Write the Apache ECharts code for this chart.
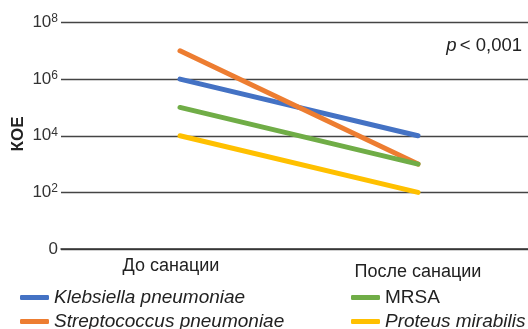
<!DOCTYPE html>
<html>
<head>
<meta charset="utf-8">
<script src="https://cdn.jsdelivr.net/npm/echarts@6/dist/echarts.min.js"></script>
<style>
  html, body { margin: 0; padding: 0; background: #fff; overflow: hidden; }
  /* plot area runs past the right edge of the page, as in the printed figure */
  #chart { width: 537px; height: 329px; }
</style>
</head>
<body>
<div id="chart"></div>
<script>
// Bacterial load (КОЕ) before and after sanitation
const categories = ['До санации', 'После санации'];
const klebsiella = [1e6, 1e4];
const streptococcus = [1e7, 1e3];
const mrsa = [1e5, 1e3];
const proteus = [1e4, 1e2];
const seriesNames = ['Klebsiella pneumoniae', 'Streptococcus pneumoniae', 'MRSA', 'Proteus mirabilis'];
const seriesColors = ['#4472C4', '#ED7D31', '#70AD47', '#FFC000'];

const FONT = '"Liberation Sans", Arial, sans-serif';

const chart = echarts.init(document.getElementById('chart'), null, { renderer: 'canvas' });

function lineSeries(name, data, color) {
  return {
    name: name,
    type: 'line',
    data: data,
    symbol: 'none',
    color: color,
    lineStyle: { width: 5, color: color, cap: 'round' },
    z: 3,
    animation: false
  };
}

const legendRich = {
  i: { fontStyle: 'italic', fontSize: 19, color: '#222', fontFamily: FONT },
  u: { fontStyle: 'normal', fontSize: 19, color: '#222', fontFamily: FONT }
};
const legendFormatter = name => name === 'MRSA' ? '{u|' + name + '}' : '{i|' + name + '}';

// one legend entry per component so the two-column layout is fixed
function legendItem(name, left, top) {
  return {
    data: [name],
    left: left, top: top,
    itemWidth: 29, itemHeight: 5, itemGap: 4,
    icon: 'roundRect',
    formatter: legendFormatter,
    textStyle: { rich: legendRich, fontSize: 19 }
  };
}

chart.setOption({
  backgroundColor: '#fff',
  animation: false,
  grid: { left: 61, right: 0, top: 22.5, bottom: 80 },
  xAxis: {
    type: 'category',
    data: categories,
    boundaryGap: true,
    axisLine: { lineStyle: { color: '#333', width: 1.5 } },
    axisTick: { show: false },
    axisLabel: {
      margin: 8,
      formatter: (v, i) => i === 0 ? '{a|' + v + '}' : '{b|' + v + '}',
      rich: {
        a: { fontSize: 18, color: '#222', fontFamily: FONT, padding: [0, 18, 0, 0] },
        b: { fontSize: 18, color: '#222', fontFamily: FONT, padding: [6, 0, 0, 0] }
      }
    }
  },
  yAxis: {
    type: 'log',
    logBase: 10,
    min: 1,
    max: 1e8,
    interval: 2,
    axisLine: { show: false },
    axisTick: { show: false },
    splitLine: { lineStyle: { color: '#444', width: 1.3 } },
    axisLabel: {
      margin: 3,
      formatter: v => {
        const e = Math.round(Math.log10(v));
        return e === 0 ? '{m|0}' : '{m|10}{s|' + e + '}';
      },
      rich: {
        m: { fontSize: 17, color: '#333', fontFamily: FONT },
        s: { fontSize: 12, color: '#333', fontFamily: FONT, padding: [0, 0, 7, 0] }
      }
    }
  },
  legend: [
    legendItem(seriesNames[0], 15, 283),
    legendItem(seriesNames[1], 15, 307),
    legendItem(seriesNames[2], 346, 283),
    legendItem(seriesNames[3], 346, 307)
  ],
  graphic: [
    {
      type: 'text',
      x: 18, y: 134,
      rotation: Math.PI / 2,
      style: {
        text: 'КОЕ',
        font: 'bold 17px ' + FONT,
        fill: '#222',
        align: 'center',
        verticalAlign: 'middle'
      }
    },
    {
      type: 'text',
      right: 15, top: 36,
      style: {
        text: '{i|p} {n|< 0,001}',
        rich: {
          i: { fontStyle: 'italic', fontSize: 18.5, fill: '#222', fontFamily: FONT },
          n: { fontSize: 18.5, fill: '#222', fontFamily: FONT }
        }
      }
    }
  ],
  series: [
    lineSeries(seriesNames[0], klebsiella, seriesColors[0]),
    lineSeries(seriesNames[1], streptococcus, seriesColors[1]),
    lineSeries(seriesNames[2], mrsa, seriesColors[2]),
    lineSeries(seriesNames[3], proteus, seriesColors[3])
  ]
});
</script>
</body>
</html>
